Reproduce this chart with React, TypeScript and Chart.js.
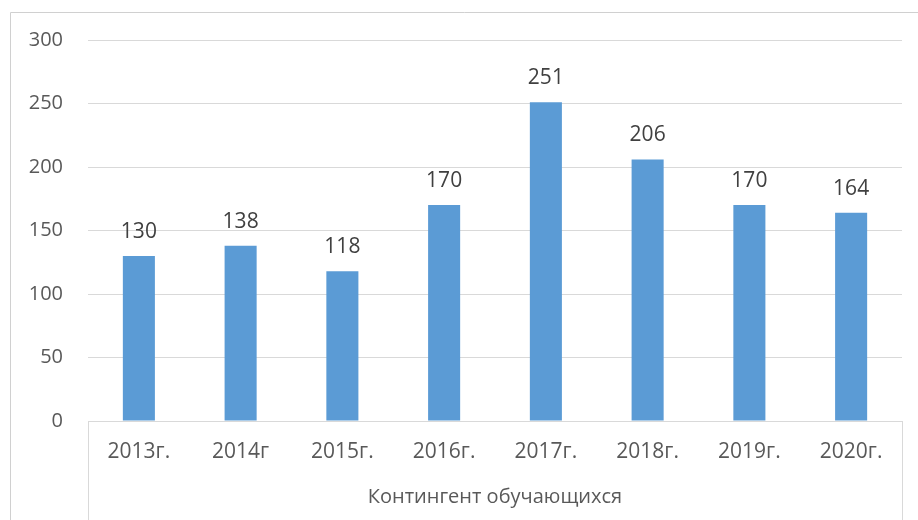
import React, { useEffect, useRef } from "react";
import { Chart, registerables } from "chart.js";

Chart.register(...registerables);

const categories = ["2013г.", "2014г", "2015г.", "2016г.", "2017г.", "2018г.", "2019г.", "2020г."];
const values = [130, 138, 118, 170, 251, 206, 170, 164];
const seriesName = "Контингент обучающихся";
const yTicks = [0, 50, 100, 150, 200, 250, 300];

const FONT = "'Open Sans', sans-serif";
const TEXT = "#595959";
const GRID = "#d9d9d9";

const decorPlugin = {
  id: "decor",
  afterDraw(chart: any) {
    const { ctx, chartArea } = chart;
    ctx.save();
    // outer border
    ctx.strokeStyle = "#d0d0d0";
    ctx.lineWidth = 1;
    ctx.beginPath();
    ctx.moveTo(10.5, 530);
    ctx.lineTo(10.5, 12.5);
    ctx.lineTo(930, 12.5);
    ctx.stroke();
    // category axis box sides
    ctx.strokeStyle = GRID;
    ctx.beginPath();
    ctx.moveTo(Math.round(chartArea.left) + 0.5, chartArea.bottom);
    ctx.lineTo(Math.round(chartArea.left) + 0.5, 530);
    ctx.moveTo(Math.round(chartArea.right) + 0.5, chartArea.bottom);
    ctx.lineTo(Math.round(chartArea.right) + 0.5, 530);
    ctx.stroke();
    // data labels
    const meta = chart.getDatasetMeta(0);
    ctx.fillStyle = "#404040";
    ctx.font = `21px ${FONT}`;
    ctx.textAlign = "center";
    ctx.textBaseline = "middle";
    meta.data.forEach((bar: any, i: number) => {
      ctx.fillText(String(values[i]), bar.x, bar.y - 24);
    });
    // series title
    ctx.fillStyle = TEXT;
    ctx.font = `20px ${FONT}`;
    ctx.fillText(seriesName, (chartArea.left + chartArea.right) / 2, 497);
    ctx.restore();
  },
};

export default function App() {
  const ref = useRef<HTMLCanvasElement | null>(null);
  useEffect(() => {
    if (!ref.current) return;
    const chart = new Chart(ref.current, {
      type: "bar",
      data: {
        labels: categories,
        datasets: [
          {
            label: seriesName,
            data: values,
            backgroundColor: "#5b9bd5",
            categoryPercentage: 1,
            barPercentage: 0.315,
          },
        ],
      },
      options: {
        animation: false,
        responsive: false,
        layout: { padding: { top: 40, right: 16, left: 0, bottom: 0 } },
        plugins: { legend: { display: false }, tooltip: { enabled: false } },
        scales: {
          x: {
            grid: { display: false, drawTicks: false },
            border: { display: true, color: GRID },
            ticks: { color: TEXT, font: { family: FONT, size: 21 }, padding: 18, maxRotation: 0 },
            afterFit(scale: any) {
              scale.height = 99;
            },
          },
          y: {
            min: 0,
            max: 300,
            afterBuildTicks(scale: any) {
              scale.ticks = yTicks.map((v) => ({ value: v }));
            },
            grid: { color: GRID, drawTicks: false },
            border: { display: false },
            ticks: { color: TEXT, font: { family: FONT, size: 20 }, padding: 25 },
            afterFit(scale: any) {
              scale.width = 88;
            },
          },
        },
      },
      plugins: [decorPlugin],
    });
    return () => chart.destroy();
  }, []);
  return (
    <div style={{ position: "fixed", left: 0, top: 0, width: 918, height: 520, background: "#fff" }}>
      <canvas ref={ref} width={918} height={520} style={{ display: "block" }} />
    </div>
  );
}
